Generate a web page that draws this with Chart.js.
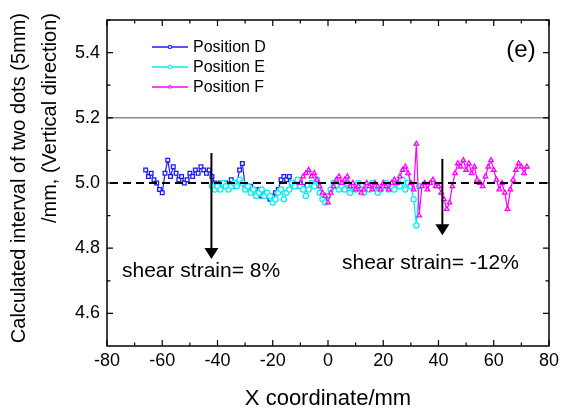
<!DOCTYPE html>
<html>
<head>
<meta charset="utf-8">
<script src="https://cdn.jsdelivr.net/npm/chart.js@4.4.1/dist/chart.umd.min.js"></script>
<style>
  html, body { margin: 0; padding: 0; background: #fff; }
</style>
</head>
<body>
<canvas id="chart" width="563" height="414"></canvas>
<script>
// Position D (blue squares)
const dX = [-66, -65, -64, -63, -62, -61, -60, -59, -58, -57,
            -56, -55, -54, -53, -52, -51, -50, -49, -48, -47,
            -46, -45, -44, -43, -42, -41, -40, -39, -38, -37,
            -36, -35, -34, -33, -32, -31, -30, -29, -28, -27,
            -26, -25, -24, -23, -22, -21, -20, -19, -18, -17,
            -16, -15, -14, -13, -12, -11, -10, -9];
const dY = [5.04, 5.02, 5.03, 5.01, 5.00, 4.98, 4.97, 5.03, 5.07, 5.02,
            5.05, 5.03, 5.01, 5.02, 5.00, 5.01, 5.03, 5.02, 5.04, 5.03,
            5.05, 5.04, 5.03, 5.04, 5.02, 5.00, 4.99, 5.00, 4.99, 5.00,
            4.99, 5.01, 4.99, 5.00, 5.04, 5.06, 4.99, 4.98, 4.99, 4.98,
            4.97, 4.98, 4.96, 4.97, 4.96, 4.95, 4.96, 4.97, 4.98, 5.01,
            5.02, 5.01, 5.02, 4.99, 5.00, 4.99, 5.00, 4.99];

// Position E (cyan circles)
const eX = [-42, -41, -40, -39, -38, -37, -36, -35, -34, -33,
            -32, -31, -30, -29, -28, -27, -26, -25, -24, -23,
            -22, -21, -20, -19, -18, -17, -16, -15, -14, -13,
            -12, -11, -10, -9, -8, -7, -6, -5, -4, -3,
            -2, -1, 0, 1, 2, 3, 4, 5, 6, 7,
            8, 9, 10, 11, 12, 13, 14, 15, 16, 17,
            18, 19, 20, 21, 22, 23, 24, 25, 26, 27,
            28, 29, 30, 31, 32, 33];
const eY = [4.99, 4.98, 4.99, 4.98, 5.00, 4.99, 4.98, 4.99, 5.00, 4.99,
            5.01, 5.00, 4.98, 4.99, 4.97, 4.98, 4.96, 4.97, 4.98, 4.96,
            4.97, 4.96, 4.94, 4.95, 4.97, 4.98, 4.95, 4.97, 4.98, 5.00,
            4.99, 5.01, 4.99, 4.98, 4.96, 4.98, 5.00, 4.99, 5.01, 4.97,
            4.95, 4.94, 4.96, 4.98, 5.00, 4.99, 4.98, 4.99, 4.98, 5.00,
            4.97, 4.99, 4.98, 5.00, 4.98, 4.97, 4.99, 4.98, 5.00, 4.99,
            4.97, 4.98, 4.99, 5.00, 4.98, 4.99, 4.98, 5.00, 4.99, 5.01,
            4.98, 5.00, 4.99, 4.95, 4.87, 4.99];

// Position F (magenta triangles)
const fX = [-10, -9, -8, -7, -6, -5, -4, -3, -2, -1,
            0, 1, 2, 3, 4, 5, 6, 7, 8, 9,
            10, 11, 12, 13, 14, 15, 16, 17, 18, 19,
            20, 21, 22, 23, 24, 25, 26, 27, 28, 29,
            30, 31, 32, 33, 34, 35, 36, 37, 38, 39,
            40, 41, 42, 43, 44, 45, 46, 47, 48, 49,
            50, 51, 52, 53, 54, 55, 56, 57, 58, 59,
            60, 61, 62, 63, 64, 65, 66, 67, 68, 69,
            70, 71, 72];
const fY = [5.00, 5.02, 5.03, 5.04, 5.02, 5.03, 5.01, 4.99, 4.97, 4.96,
            4.94, 4.97, 4.99, 5.01, 5.02, 5.00, 5.01, 5.02, 4.99, 5.00,
            4.98, 4.99, 4.97, 4.98, 5.00, 4.99, 4.98, 5.00, 4.99, 4.98,
            5.00, 4.99, 4.98, 5.00, 5.01, 5.00, 5.02, 5.04, 5.05, 5.03,
            5.00, 4.98, 5.12, 4.90, 4.99, 5.00, 4.98, 5.00, 5.01, 4.99,
            4.99, 4.97, 4.95, 4.92, 4.94, 4.99, 5.03, 5.06, 5.05, 5.07,
            5.04, 5.06, 5.03, 5.05, 5.01, 5.00, 4.99, 5.02, 5.05, 5.07,
            5.04, 5.01, 4.98, 5.00, 4.97, 4.92, 4.98, 5.01, 5.04, 5.06,
            5.05, 5.03, 5.05];

const xTicks = [-80, -60, -40, -20, 0, 20, 40, 60, 80];
const yTicks = [4.6, 4.8, 5.0, 5.2, 5.4];

const seriesNames = ["Position D", "Position E", "Position F"];
const seriesColors = ["#1a1aff", "#00f0f0", "#ff00ff"];
const seriesMarkers = ["rect", "circle", "triangle"];

// shear strain markers: x position, top and tip of the arrow
const arrows = [
  { x: -42.2, top: 5.092, tip: 4.767 },
  { x: 41.4, top: 5.074, tip: 4.84 }
];

const FONT = "'Liberation Sans', Arial, sans-serif";

function toPoints(xs, ys) {
  return xs.map((x, i) => ({ x: x, y: ys[i] }));
}

const seriesData = [toPoints(dX, dY), toPoints(eX, eY), toPoints(fX, fY)];

const datasets = seriesData.map((pts, i) => ({
  label: seriesNames[i],
  data: pts,
  borderColor: seriesColors[i],
  backgroundColor: "#ffffff",
  borderWidth: 1.2,
  pointStyle: seriesMarkers[i],
  pointRadius: 2.6,
  pointBorderWidth: 1.3,
  pointBorderColor: seriesColors[i],
  pointBackgroundColor: "#ffffff",
  order: 3 - i,
  tension: 0
}));

// frame, ticks, reference lines, arrows, legend and titles
const decorations = {
  id: "decorations",
  afterDatasetsDraw(chart) {
    const { ctx, chartArea: a, scales: { x, y } } = chart;
    ctx.save();

    // gray line at 5.2
    ctx.strokeStyle = "#8a8a8a";
    ctx.lineWidth = 1.5;
    ctx.beginPath();
    ctx.moveTo(a.left, y.getPixelForValue(5.2));
    ctx.lineTo(a.right, y.getPixelForValue(5.2));
    ctx.stroke();

    // dashed line at 5.0
    ctx.strokeStyle = "#000";
    ctx.lineWidth = 2;
    ctx.setLineDash([8, 5]);
    ctx.beginPath();
    ctx.moveTo(a.left + 3, y.getPixelForValue(5.0));
    ctx.lineTo(a.right - 2, y.getPixelForValue(5.0));
    ctx.stroke();
    ctx.setLineDash([]);

    // arrows
    arrows.forEach(ar => {
      const px = x.getPixelForValue(ar.x);
      const top = y.getPixelForValue(ar.top);
      const tip = y.getPixelForValue(ar.tip);
      ctx.lineWidth = 2;
      ctx.beginPath();
      ctx.moveTo(px, top);
      ctx.lineTo(px, tip - 8);
      ctx.stroke();
      ctx.fillStyle = "#000";
      ctx.beginPath();
      ctx.moveTo(px - 7, tip - 11);
      ctx.lineTo(px + 7, tip - 11);
      ctx.lineTo(px, tip);
      ctx.closePath();
      ctx.fill();
    });

    // annotations
    ctx.fillStyle = "#000";
    ctx.textBaseline = "middle";
    ctx.textAlign = "left";
    ctx.font = "21px " + FONT;
    ctx.fillText("shear strain= 8%", 122, 271);
    ctx.fillText("shear strain= -12%", 342, 263);
    ctx.font = "24px " + FONT;
    ctx.textAlign = "center";
    ctx.fillText("(e)", 521, 50);

    // frame
    ctx.strokeStyle = "#000";
    ctx.lineWidth = 1.5;
    ctx.strokeRect(a.left, a.top, a.right - a.left, a.bottom - a.top);

    // inward ticks on all four sides
    ctx.lineWidth = 1.2;
    ctx.beginPath();
    xTicks.forEach((v, i) => {
      const px = x.getPixelForValue(v);
      ctx.moveTo(px, a.bottom); ctx.lineTo(px, a.bottom - 6);
      ctx.moveTo(px, a.top); ctx.lineTo(px, a.top + 6);
      if (i < xTicks.length - 1) {
        const mx = x.getPixelForValue((v + xTicks[i + 1]) / 2);
        ctx.moveTo(mx, a.bottom); ctx.lineTo(mx, a.bottom - 3.5);
        ctx.moveTo(mx, a.top); ctx.lineTo(mx, a.top + 3.5);
      }
    });
    const yMinor = [4.5].concat(yTicks);
    yMinor.forEach((v, i) => {
      const py = y.getPixelForValue(v);
      if (i > 0) {
        ctx.moveTo(a.left, py); ctx.lineTo(a.left + 6, py);
        ctx.moveTo(a.right, py); ctx.lineTo(a.right - 6, py);
      }
      const m = y.getPixelForValue(v + 0.1);
      ctx.moveTo(a.left, m); ctx.lineTo(a.left + 3.5, m);
      ctx.moveTo(a.right, m); ctx.lineTo(a.right - 3.5, m);
    });
    ctx.stroke();

    // legend
    ctx.font = "16px " + FONT;
    ctx.textAlign = "left";
    seriesNames.forEach((name, i) => {
      const ly = 47 + i * 20;
      ctx.strokeStyle = seriesColors[i];
      ctx.lineWidth = 1.5;
      ctx.beginPath();
      ctx.moveTo(152, ly);
      ctx.lineTo(188, ly);
      ctx.stroke();
      ctx.fillStyle = "#fff";
      ctx.lineWidth = 1;
      Chart.helpers.drawPoint(ctx, {
        pointStyle: seriesMarkers[i], radius: 2, rotation: 0, borderWidth: 1
      }, 170, ly);
      ctx.fillStyle = "#000";
      ctx.fillText(name, 193, ly + 1);
    });

    // axis titles
    ctx.fillStyle = "#000";
    ctx.font = "22px " + FONT;
    ctx.textAlign = "center";
    ctx.fillText("X coordinate/mm", 328, 399);

    ctx.font = "20px " + FONT;
    ctx.textAlign = "right";
    ctx.translate(19, 13);
    ctx.rotate(-Math.PI / 2);
    ctx.fillText("Calculated interval of two dots (5mm)", 0, 0);
    ctx.fillText("/mm, (Vertical direction)", 0, 31);

    ctx.restore();
  }
};

new Chart(document.getElementById("chart"), {
  type: "line",
  data: { datasets: datasets },
  options: {
    responsive: false,
    animation: false,
    layout: { padding: { left: 0, right: 13, top: 20, bottom: 0 } },
    plugins: { legend: { display: false }, tooltip: { enabled: false } },
    scales: {
      x: {
        type: "linear",
        min: -80,
        max: 80,
        grid: { display: false, drawTicks: false },
        border: { display: false },
        afterBuildTicks: axis => { axis.ticks = xTicks.map(v => ({ value: v })); },
        afterFit: axis => { axis.height = 68; },
        ticks: {
          autoSkip: false,
          maxRotation: 0,
          padding: 4,
          color: "#000",
          font: { family: FONT, size: 18 },
          callback: v => String(v)
        }
      },
      y: {
        type: "linear",
        min: 4.5,
        max: 5.5,
        grid: { display: false, drawTicks: false },
        border: { display: false },
        afterBuildTicks: axis => { axis.ticks = yTicks.map(v => ({ value: v })); },
        afterFit: axis => { axis.width = 107; },
        ticks: {
          autoSkip: false,
          padding: 7,
          color: "#000",
          font: { family: FONT, size: 18 },
          callback: v => v.toFixed(1)
        }
      }
    }
  },
  plugins: [decorations]
});
</script>
</body>
</html>
